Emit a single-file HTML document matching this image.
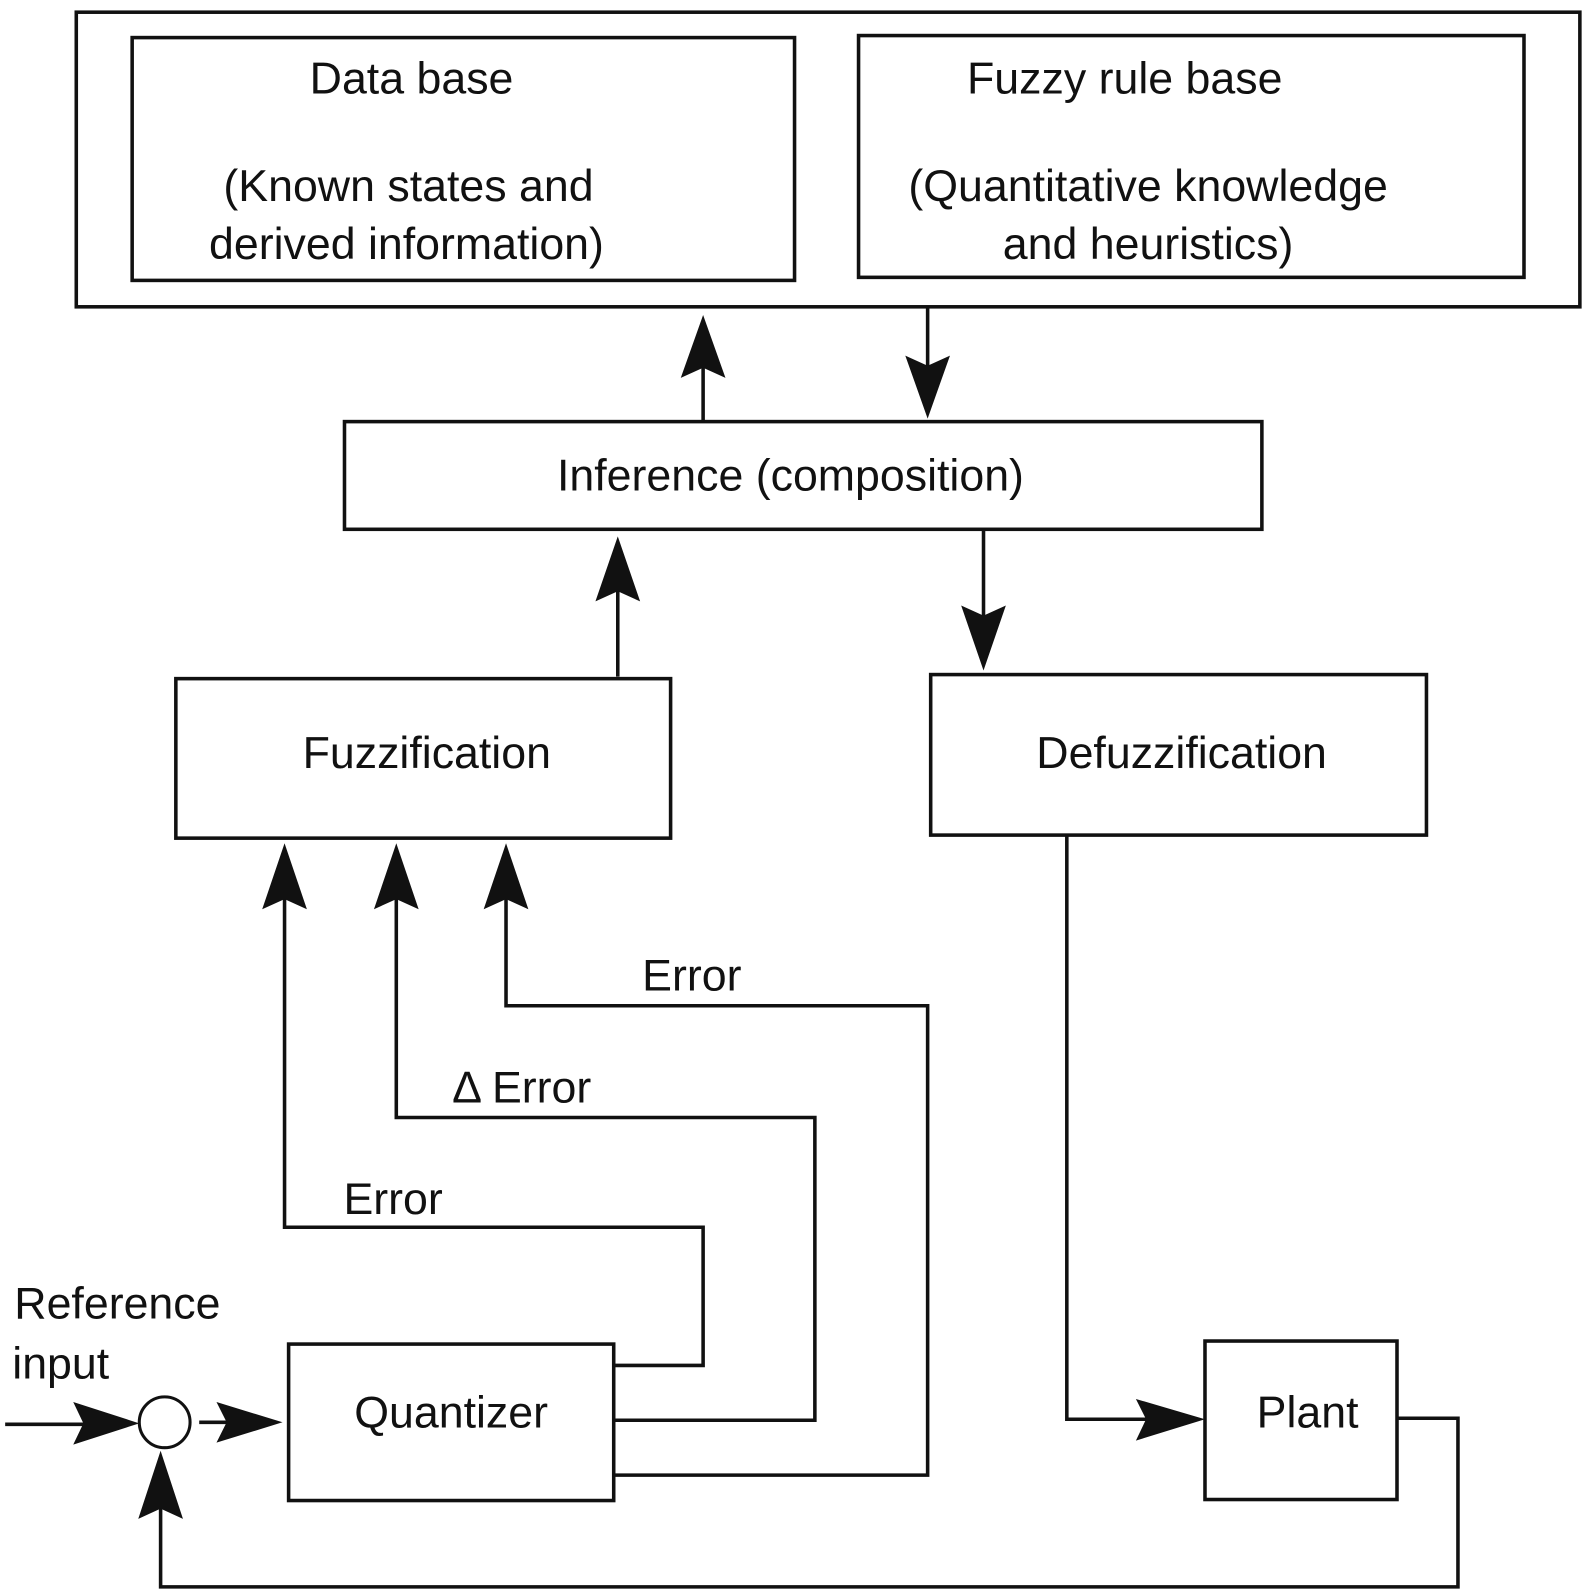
<!DOCTYPE html>
<html><head><meta charset="utf-8"><style>
html,body{margin:0;padding:0;background:#fff}
svg{display:block}
text{font-family:"Liberation Sans",Arial,sans-serif;font-size:44px;fill:#111}
</style></head><body>
<svg width="1583" height="1594" viewBox="0 0 1558 1569" xmlns="http://www.w3.org/2000/svg">
<g fill="none" stroke="#111" stroke-width="3.5">
<rect x="75" y="12" width="1480" height="290"/>
<rect x="130" y="37" width="652" height="239"/>
<rect x="845" y="35" width="655" height="238"/>
<rect x="339" y="415" width="903" height="106"/>
<rect x="173" y="668" width="487" height="157"/>
<rect x="916" y="664" width="488" height="158"/>
<rect x="284" y="1323" width="320" height="154"/>
<rect x="1186" y="1320" width="189" height="156"/>
<circle cx="162" cy="1400" r="25" stroke-width="3"/>
<path d="M692 415 V340"/>
<path d="M913 302 V380"/>
<path d="M608 666 V560"/>
<path d="M968 521 V630"/>
<path d="M280 860 V1208 H692 V1344 H604"/>
<path d="M390 860 V1100 H802 V1398 H604"/>
<path d="M498 860 V990 H913 V1452 H604"/>
<path d="M1050 822 V1397 H1150"/>
<path d="M1375 1396 H1435 V1562 H158 V1460"/>
<path d="M5 1402 H110"/>
<path d="M196 1400 H250"/>
</g>
<g fill="#111">
<path d="M692 310 L714 372 L692 362 L670 372 Z"/>
<path d="M913 412 L935 350 L913 360 L891 350 Z"/>
<path d="M608 528 L630 592 L608 582 L586 592 Z"/>
<path d="M968 660 L990 596 L968 606 L946 596 Z"/>
<path d="M280 830 L302 895 L280 885 L258 895 Z"/>
<path d="M390 830 L412 895 L390 885 L368 895 Z"/>
<path d="M498 830 L520 895 L498 885 L476 895 Z"/>
<path d="M158 1428 L180 1495 L158 1485 L136 1495 Z"/>
<path d="M137 1401 L72 1380 L82 1401 L72 1422 Z"/>
<path d="M278 1400 L213 1380 L223 1400 L213 1420 Z"/>
<path d="M1186 1397 L1118 1377 L1128 1397 L1118 1418 Z"/>
</g>
<g text-anchor="middle">
<text x="405" y="92">Data base</text>
<text x="402" y="198">(Known states and</text>
<text x="400" y="255">derived information)</text>
<text x="1107" y="92">Fuzzy rule base</text>
<text x="1130" y="198">(Quantitative knowledge</text>
<text x="1130" y="255">and heuristics)</text>
<text x="778" y="483">Inference (composition)</text>
<text x="420" y="756">Fuzzification</text>
<text x="1163" y="756">Defuzzification</text>
<text x="444" y="1405">Quantizer</text>
<text x="1287" y="1405">Plant</text>
</g>
<text x="632" y="975">Error</text>
<text x="445" y="1085">Δ Error</text>
<text x="338" y="1195">Error</text>
<text x="14" y="1298">Reference</text>
<text x="12" y="1357">input</text>
</svg>
</body></html>
